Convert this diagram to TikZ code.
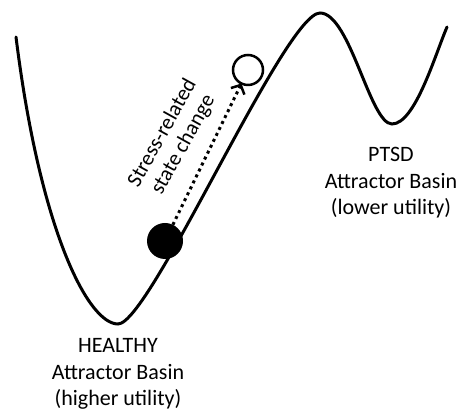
\documentclass[tikz,border=0pt]{standalone}
\usepackage{fontspec}
\setmainfont{Carlito}
\usetikzlibrary{arrows.meta}

\tikzset{
    landscape/.style={line width=3pt, line cap=round},
    basin label/.style={align=center, font=\fontsize{22}{26.5}\selectfont},
    ball/.style={circle, inner sep=0pt, outer sep=0pt},
}

\begin{document}
\begin{tikzpicture}[x=1pt, y=1pt]
    \useasboundingbox (0,0) rectangle (465,414);
    % energy landscape
    \coordinate (start) at (16,377);
    \coordinate (healthymin) at (118,90);
    \coordinate (peak) at (320,401);
    \coordinate (ptsdmin) at (392,290);
    \coordinate (end) at (447,387);
    \draw[landscape] (start) .. controls (40,184) and (88,90) .. (healthymin)
        .. controls (150,90) and (285,401) .. (peak)
        .. controls (350,401) and (370,290) .. (ptsdmin)
        .. controls (415,290) and (435,359) .. (end);

    \node[ball, fill=black, minimum size=36pt] (before) at (165,173) {};
    \node[ball, draw, line width=2.5pt, fill=white, minimum size=30pt] (after) at (248,344) {};
    \draw[line width=3pt, dash pattern=on 3pt off 3.6pt,
        -{Straight Barb[length=7pt, width=15pt, line width=2.5pt]}]
        (before) -- (after);

    \node[basin label, rotate=61, font=\fontsize{21.5}{24}\selectfont] (change) at (173,275)
        {Stress-related\\state change};
    \node[basin label] (healthy) at (118,40) {HEALTHY\\Attractor Basin\\(higher utility)};
    \node[basin label] (ptsd) at (391,231) {PTSD\\Attractor Basin\\(lower utility)};
\end{tikzpicture}
\end{document}
